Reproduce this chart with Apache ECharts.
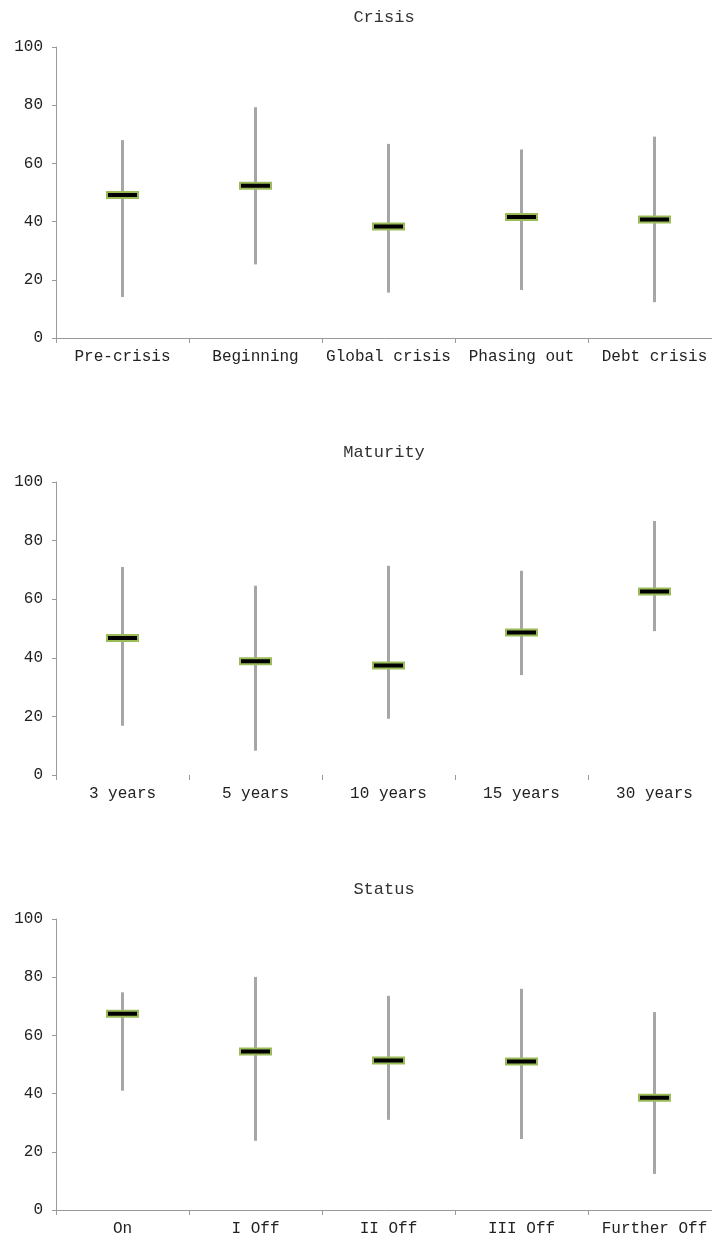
<!DOCTYPE html>
<html>
<head>
<meta charset="utf-8">
<script src="https://cdn.jsdelivr.net/npm/echarts@6/dist/echarts.min.js"></script>
<style>
  html, body { margin: 0; padding: 0; background: #fff; }
  #chart { width: 712px; height: 1239px; }
</style>
</head>
<body>
<div id="chart"></div>
<script>
// ---- Data ----
const titles = ['Crisis', 'Maturity', 'Status'];

const crisisCategories = ['Pre-crisis', 'Beginning', 'Global crisis', 'Phasing out', 'Debt crisis'];
const crisisLow    = [14.1, 25.3, 15.6, 16.5, 12.3];
const crisisHigh   = [68.0, 79.3, 66.7, 64.8, 69.2];
const crisisMedian = [49.1, 52.3, 38.3, 41.6, 40.7];

const maturityCategories = ['3 years', '5 years', '10 years', '15 years', '30 years'];
const maturityLow    = [16.8, 8.3, 19.2, 34.1, 49.1];
const maturityHigh   = [71.0, 64.6, 71.4, 69.7, 86.7];
const maturityMedian = [46.8, 38.8, 37.4, 48.6, 62.6];

const statusCategories = ['On', 'I Off', 'II Off', 'III Off', 'Further Off'];
const statusLow    = [41.0, 23.8, 31.0, 24.4, 12.4];
const statusHigh   = [74.8, 80.1, 73.6, 76.0, 68.0];
const statusMedian = [67.4, 54.5, 51.4, 51.0, 38.6];

const yTicks = [0, 20, 40, 60, 80, 100];

// ---- Build chart ----
const FONT = '"Liberation Mono", "Courier New", monospace';
const panels = [
  { cats: crisisCategories, low: crisisLow, high: crisisHigh, med: crisisMedian, top: 47, height: 291, xLine: true },
  { cats: maturityCategories, low: maturityLow, high: maturityHigh, med: maturityMedian, top: 482, height: 293, xLine: false },
  { cats: statusCategories, low: statusLow, high: statusHigh, med: statusMedian, top: 919, height: 291, xLine: true }
];

const grid = [], xAxis = [], yAxis = [], series = [], title = [];
panels.forEach((p, i) => {
  grid.push({ left: 56, width: 665, top: p.top, height: p.height, outerBoundsMode: 'none', containLabel: false });
  title.push({
    text: titles[i], left: 379, top: p.top - 43, textAlign: 'center',
    textStyle: { fontFamily: FONT, fontSize: 17, fontWeight: 'normal', color: '#333' }
  });
  xAxis.push({
    type: 'category', gridIndex: i, data: p.cats, boundaryGap: true,
    axisLine: { show: p.xLine, lineStyle: { color: '#9a9a9a', width: 1 } },
    axisTick: { show: true, length: 5, lineStyle: { color: '#9a9a9a' } },
    axisLabel: { fontFamily: FONT, fontSize: 16, color: '#222', margin: 11, interval: 0 },
    splitLine: { show: false }
  });
  yAxis.push({
    type: 'value', gridIndex: i, min: yTicks[0], max: yTicks[yTicks.length - 1], interval: 20,
    axisLine: { show: true, lineStyle: { color: '#9a9a9a', width: 1 } },
    axisTick: { show: true, length: 4, lineStyle: { color: '#9a9a9a' } },
    axisLabel: { fontFamily: FONT, fontSize: 16, color: '#222', margin: 13 },
    splitLine: { show: false }
  });
  const data = p.cats.map((c, k) => [k, p.low[k], p.high[k], p.med[k]]);
  series.push({
    type: 'custom', xAxisIndex: i, yAxisIndex: i, data: data,
    encode: { x: 0, y: [1, 2, 3] },
    renderItem: function (params, api) {
      const x = api.value(0);
      const lo = api.coord([x, api.value(1)]);
      const hi = api.coord([x, api.value(2)]);
      const md = api.coord([x, api.value(3)]);
      return {
        type: 'group',
        children: [
          { type: 'line', shape: { x1: lo[0], y1: lo[1], x2: hi[0], y2: hi[1] },
            style: { stroke: '#a6a6a6', lineWidth: 3 } },
          { type: 'rect', shape: { x: md[0] - 15.5, y: md[1] - 3, width: 31, height: 6 },
            style: { fill: '#000', stroke: '#9bbb59', lineWidth: 2 } }
        ]
      };
    }
  });
});

const chart = echarts.init(document.getElementById('chart'));
chart.setOption({
  animation: false,
  backgroundColor: '#fff',
  title, grid, xAxis, yAxis, series
});
</script>
</body>
</html>
